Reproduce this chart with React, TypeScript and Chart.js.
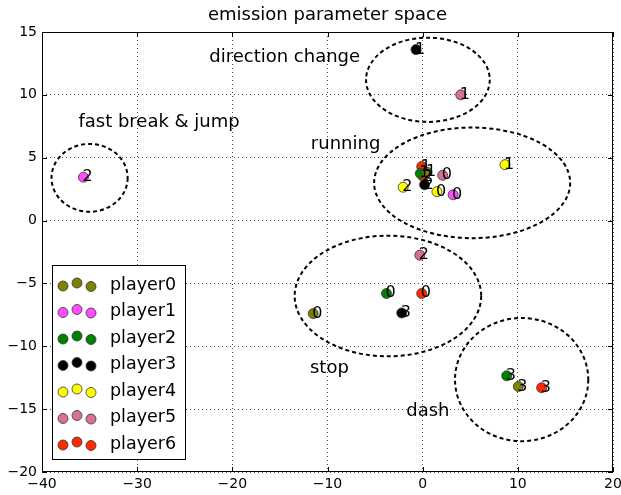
import React, { useEffect, useRef } from 'react';
import { Chart, registerables } from 'chart.js';

Chart.register(...registerables);

const FONT = '"DejaVu Sans", "Liberation Sans", sans-serif';

const titleText = 'emission parameter space';
const xTicks = [-40, -30, -20, -10, 0, 10, 20];
const yTicks = [-20, -15, -10, -5, 0, 5, 10, 15];

const playerNames = ['player0', 'player1', 'player2', 'player3', 'player4', 'player5', 'player6'];
const playerColors = ['#808000', '#ff4cff', '#008000', '#000000', '#ffff00', '#d87093', '#ff2a00'];

const player0X = [-11.5, 0.45, 10.05];
const player0Y = [-7.4, 3.85, -13.2];
const player0S = ['0', '1', '3'];

const player1X = [3.2, -35.65];
const player1Y = [2.05, 3.45];
const player1S = ['0', '2'];

const player2X = [-3.8, -0.25, 8.83];
const player2Y = [-5.8, 3.75, -12.35];
const player2S = ['0', '1', '3'];

const player3X = [-0.7, 0.2, -2.2];
const player3Y = [13.6, 2.85, -7.35];
const player3S = ['1', '2', '3'];

const player4X = [1.5, 8.65, -2.05];
const player4Y = [2.3, 4.45, 2.65];
const player4S = ['0', '1', '2'];

const player5X = [2.1, 4.0, -0.3];
const player5Y = [3.6, 10.0, -2.75];
const player5S = ['0', '1', '2'];

const player6X = [-0.1, -0.1, 0.05, 12.5];
const player6Y = [-5.8, 4.3, 3.5, -13.3];
const player6S = ['0', '1', '2', '3'];

const playersX = [player0X, player1X, player2X, player3X, player4X, player5X, player6X];
const playersY = [player0Y, player1Y, player2Y, player3Y, player4Y, player5Y, player6Y];
const playersS = [player0S, player1S, player2S, player3S, player4S, player5S, player6S];

const regionNames = ['direction change', 'fast break & jump', 'running', 'stop', 'dash'];
const regionLabelX = [-14.5, -27.7, -8.1, -9.8, 0.55];
const regionLabelY = [13.0, 7.85, 6.1, -11.75, -15.2];
const ellipseCX = [0.55, -35.0, 5.2, -3.65, 10.4];
const ellipseCY = [11.2, 3.4, 3.0, -6.0, -12.65];
const ellipseRX = [6.5, 4.0, 10.3, 9.8, 7.0];
const ellipseRY = [3.35, 2.7, 4.4, 4.8, 4.9];

const fmt = (v: number) => (v < 0 ? '\u2212' + Math.abs(v) : String(v));

const overlayPlugin = {
  id: 'overlay',
  afterDatasetsDraw(chart: any) {
    const ctx = chart.ctx as CanvasRenderingContext2D;
    const xs = chart.scales.x;
    const ys = chart.scales.y;
    const area = chart.chartArea;
    ctx.save();

    // ellipses
    ctx.strokeStyle = '#000';
    ctx.lineWidth = 2;
    ctx.setLineDash([4, 3]);
    for (let i = 0; i < ellipseCX.length; i++) {
      const cx = xs.getPixelForValue(ellipseCX[i]);
      const cy = ys.getPixelForValue(ellipseCY[i]);
      const rx = Math.abs(xs.getPixelForValue(ellipseCX[i] + ellipseRX[i]) - cx);
      const ry = Math.abs(ys.getPixelForValue(ellipseCY[i] + ellipseRY[i]) - cy);
      ctx.beginPath();
      ctx.ellipse(cx, cy, rx, ry, 0, 0, Math.PI * 2);
      ctx.stroke();
    }
    ctx.setLineDash([]);

    // region texts
    ctx.fillStyle = '#000';
    ctx.font = '18px ' + FONT;
    ctx.textAlign = 'center';
    ctx.textBaseline = 'middle';
    for (let i = 0; i < regionNames.length; i++) {
      ctx.fillText(regionNames[i], xs.getPixelForValue(regionLabelX[i]), ys.getPixelForValue(regionLabelY[i]));
    }

    // state labels
    ctx.font = '16px ' + FONT;
    ctx.textAlign = 'left';
    ctx.textBaseline = 'alphabetic';
    for (let p = 0; p < playersX.length; p++) {
      for (let i = 0; i < playersX[p].length; i++) {
        const px = xs.getPixelForValue(playersX[p][i]);
        const py = ys.getPixelForValue(playersY[p][i]);
        ctx.fillText(playersS[p][i], px - 1, py + 4);
      }
    }

    // frame and inward ticks
    ctx.strokeStyle = '#000';
    ctx.lineWidth = 1;
    ctx.strokeRect(area.left + 0.5, area.top + 0.5, area.right - area.left - 1, area.bottom - area.top - 1);
    ctx.beginPath();
    for (const v of xTicks) {
      const x = Math.round(xs.getPixelForValue(v)) + 0.5;
      ctx.moveTo(x, area.bottom);
      ctx.lineTo(x, area.bottom - 5);
      ctx.moveTo(x, area.top);
      ctx.lineTo(x, area.top + 5);
    }
    for (const v of yTicks) {
      const y = Math.round(ys.getPixelForValue(v)) + 0.5;
      ctx.moveTo(area.left, y);
      ctx.lineTo(area.left + 5, y);
      ctx.moveTo(area.right, y);
      ctx.lineTo(area.right - 5, y);
    }
    ctx.stroke();

    // legend
    const lx = area.left + 10;
    const ly = area.top + 233;
    const lw = 133;
    const lh = 194;
    ctx.fillStyle = '#fff';
    ctx.fillRect(lx, ly, lw, lh);
    ctx.strokeStyle = '#000';
    ctx.lineWidth = 1;
    ctx.strokeRect(lx + 0.5, ly + 0.5, lw, lh);
    const offs = [1, -2, 1.5];
    ctx.font = '17.5px ' + FONT;
    ctx.textBaseline = 'middle';
    ctx.textAlign = 'left';
    for (let p = 0; p < playerNames.length; p++) {
      const cy = ly + 20 + p * 26.5;
      for (let k = 0; k < 3; k++) {
        ctx.beginPath();
        ctx.arc(lx + 11 + k * 14, cy + offs[k], 5, 0, Math.PI * 2);
        ctx.fillStyle = playerColors[p];
        ctx.fill();
        ctx.strokeStyle = '#333';
        ctx.lineWidth = 0.8;
        ctx.stroke();
      }
      ctx.fillStyle = '#000';
      ctx.fillText(playerNames[p], lx + 58, cy);
    }

    ctx.restore();
  },
};

export default function App() {
  const ref = useRef<HTMLCanvasElement | null>(null);

  useEffect(() => {
    document.body.style.margin = '0';
    const canvas = ref.current;
    if (!canvas) return;
    const datasets = playerNames.map((name, p) => ({
      label: name,
      data: playersX[p].map((x, i) => ({ x, y: playersY[p][i] })),
      backgroundColor: playerColors[p],
      borderColor: '#333',
      borderWidth: 0.8,
      pointRadius: 5,
      pointHoverRadius: 5,
    }));
    const chart = new Chart(canvas, {
      type: 'scatter',
      data: { datasets },
      options: {
        responsive: false,
        animation: false,
        devicePixelRatio: 1,
        layout: { padding: { left: 0, right: 8, top: 0, bottom: 0 } },
        plugins: {
          legend: { display: false },
          tooltip: { enabled: false },
          title: {
            display: true,
            fullSize: false,
            text: titleText,
            color: '#000',
            font: { family: FONT, size: 18, weight: 'normal' },
            padding: { top: 5, bottom: 5.4 },
          },
        },
        scales: {
          x: {
            type: 'linear',
            min: -40,
            max: 20,
            afterBuildTicks: (s: any) => {
              s.ticks = xTicks.map((v) => ({ value: v }));
            },
            afterFit: (s: any) => {
              s.height = 23;
              s.paddingLeft = 0;
              s.paddingRight = 0;
            },
            ticks: {
              color: '#000',
              font: { family: FONT, size: 14 },
              padding: 4,
              maxRotation: 0,
              callback: (v: any) => fmt(Number(v)),
            },
            grid: { color: '#000', lineWidth: 0.7, drawTicks: false },
            border: { display: false, dash: [1, 3] },
          },
          y: {
            type: 'linear',
            min: -20,
            max: 15,
            afterBuildTicks: (s: any) => {
              s.ticks = yTicks.map((v) => ({ value: v }));
            },
            afterFit: (s: any) => {
              s.width = 42;
            },
            ticks: {
              color: '#000',
              font: { family: FONT, size: 14 },
              padding: 5,
              callback: (v: any) => fmt(Number(v)),
            },
            grid: { color: '#000', lineWidth: 0.7, drawTicks: false },
            border: { display: false, dash: [1, 3] },
          },
        },
      } as any,
      plugins: [overlayPlugin],
    });
    return () => chart.destroy();
  }, []);

  return (
    <div style={{ position: 'fixed', left: 0, top: 0, width: 621, height: 495, background: '#fff' }}>
      <canvas ref={ref} width={621} height={495} />
    </div>
  );
}
